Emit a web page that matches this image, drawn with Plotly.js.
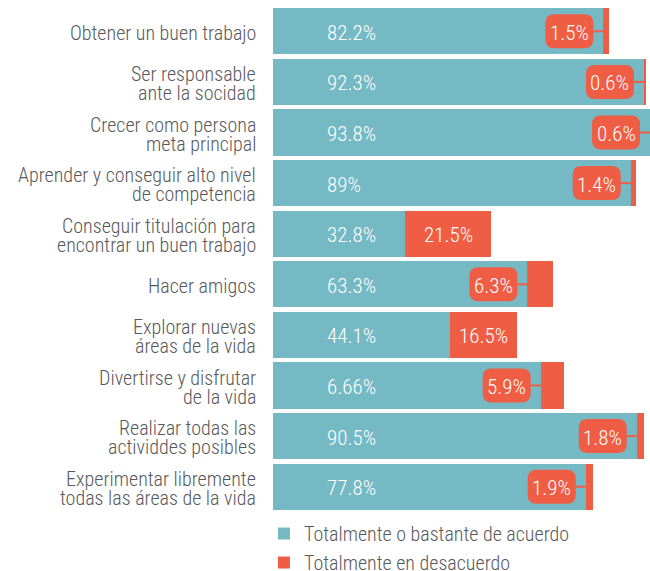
<!DOCTYPE html>
<html>
<head>
<meta charset="utf-8">
<script src="https://cdn.plot.ly/plotly-3.0.1.min.js"></script>
<style>
html,body{margin:0;padding:0;background:#fff;}
#chart{width:650px;height:571px;}
svg text{font-stretch:condensed !important;}
</style>
</head>
<body>
<div id="chart"></div>
<script>
// ---- data ----
const categories = [
  "Obtener un buen trabajo",
  "Ser responsable<br>ante la socidad",
  "Crecer como persona<br>meta principal",
  "Aprender y conseguir alto nivel<br>de competencia",
  "Conseguir titulación para<br>encontrar un buen trabajo",
  "Hacer amigos",
  "Explorar nuevas<br>áreas de la vida",
  "Divertirse y disfrutar<br>de la vida",
  "Realizar todas las<br>actividdes posibles",
  "Experimentar libremente<br>todas las áreas de la vida"
];
const agree = [82.2, 92.3, 93.8, 89, 32.8, 63.3, 44.1, 66.6, 90.5, 77.8];
const agreeLabels = ["82.2%", "92.3%", "93.8%", "89%", "32.8%", "63.3%", "44.1%", "6.66%", "90.5%", "77.8%"];
const disagree = [1.5, 0.6, 0.6, 1.4, 21.5, 6.3, 16.5, 5.9, 1.8, 1.9];
const disagreeLabels = ["1.5%", "0.6%", "0.6%", "1.4%", "21.5%", "6.3%", "16.5%", "5.9%", "1.8%", "1.9%"];
const seriesNames = ["Totalmente o bastante de acuerdo", "Totalmente en desacuerdo"];

// ---- style ----
const TEAL = "#75B9C5";
const RED = "#EE5D44";
const GREY = "#58595B";
const FONT = "Roboto, 'Open Sans', sans-serif";
const WEIGHT = 350;
const LABEL_SIZE = 20;
const VALUE_SIZE = 21;
const AGREE_LABEL_X = 13;     // fixed left position of the teal value labels (axis units)
const INSIDE_MIN = 10;        // red values at least this wide get their label inside the bar
const BOX_W = 48, BOX_H = 34, BOX_R = 9, BOX_GAP = 10;
const LINE_STEP = 19, TEXT_DY = -1.5;

const traceAgree = {
  type: "bar", orientation: "h", name: seriesNames[0],
  y: categories, x: agree,
  marker: {color: TEAL, line: {width: 0}},
  hoverinfo: "none"
};
const traceDisagree = {
  type: "bar", orientation: "h", name: seriesNames[1],
  y: categories, x: disagree,
  marker: {color: RED, line: {width: 0}},
  hoverinfo: "none"
};

const annotations = [];
const shapes = [];
const greyFont = {family: FONT, size: LABEL_SIZE, color: GREY, weight: WEIGHT};
const whiteFont = {family: FONT, size: VALUE_SIZE, color: "#ffffff", weight: WEIGHT};

// category labels (one annotation per line for tight line spacing)
categories.forEach((c, i) => {
  const lines = c.split("<br>");
  const n = lines.length;
  lines.forEach((ln, j) => {
    annotations.push({
      xref: "paper", x: 0, xanchor: "right", xshift: -15,
      yref: "y", y: i, yanchor: "middle", yshift: ((n - 1) / 2 - j) * LINE_STEP + TEXT_DY,
      text: ln, showarrow: false, font: greyFont
    });
  });
});

// teal value labels (left aligned at a fixed position)
agreeLabels.forEach((t, i) => {
  annotations.push({
    xref: "x", x: AGREE_LABEL_X, xanchor: "left",
    yref: "y", y: i, yanchor: "middle", yshift: TEXT_DY,
    text: t, showarrow: false, font: whiteFont
  });
});

// red value labels: inside wide segments, callout boxes for narrow ones
const L = -(BOX_GAP + BOX_W), R = -BOX_GAP, T = BOX_H / 2, B = -BOX_H / 2, r = BOX_R;
const roundRect = `M${L + r},${B} H${R - r} Q${R},${B} ${R},${B + r} V${T - r} Q${R},${T} ${R - r},${T} H${L + r} Q${L},${T} ${L},${T - r} V${B + r} Q${L},${B} ${L + r},${B} Z`;
disagree.forEach((v, i) => {
  if (v >= INSIDE_MIN) {
    annotations.push({
      xref: "x", x: agree[i] + v / 2, xanchor: "center",
      yref: "y", y: i, yanchor: "middle", yshift: TEXT_DY,
      text: disagreeLabels[i], showarrow: false, font: whiteFont
    });
    return;
  }
  shapes.push({
    type: "path", xref: "x", yref: "y",
    xsizemode: "pixel", ysizemode: "pixel",
    xanchor: agree[i], yanchor: i,
    path: `M${R},0 H0`,
    line: {color: RED, width: 2}
  });
  shapes.push({
    type: "path", xref: "x", yref: "y",
    xsizemode: "pixel", ysizemode: "pixel",
    xanchor: agree[i], yanchor: i,
    path: roundRect,
    fillcolor: RED, line: {width: 0}
  });
  annotations.push({
    xref: "x", x: agree[i], xanchor: "center", xshift: -(BOX_GAP + BOX_W / 2),
    yref: "y", y: i, yanchor: "middle", yshift: TEXT_DY,
    text: disagreeLabels[i], showarrow: false, font: whiteFont
  });
});

const layout = {
  width: 650, height: 571,
  margin: {l: 273, r: 0, t: 6, b: 59, pad: 0, autoexpand: false},
  paper_bgcolor: "#ffffff", plot_bgcolor: "#ffffff",
  barmode: "stack", bargap: 0.09,
  font: {family: FONT, color: GREY},
  xaxis: {range: [0, 93.8], visible: false, fixedrange: true},
  yaxis: {type: "category", autorange: "reversed", showticklabels: false,
          showgrid: false, zeroline: false, showline: false, ticks: "", fixedrange: true},
  showlegend: true,
  legend: {
    orientation: "v", traceorder: "normal",
    x: -0.024, xanchor: "left", y: -0.004, yanchor: "top",
    font: greyFont,
    bgcolor: "rgba(0,0,0,0)", borderwidth: 0, tracegroupgap: 0
  },
  annotations: annotations,
  shapes: shapes
};

Plotly.newPlot("chart", [traceAgree, traceDisagree], layout, {displayModeBar: false, staticPlot: true});
</script>
</body>
</html>
